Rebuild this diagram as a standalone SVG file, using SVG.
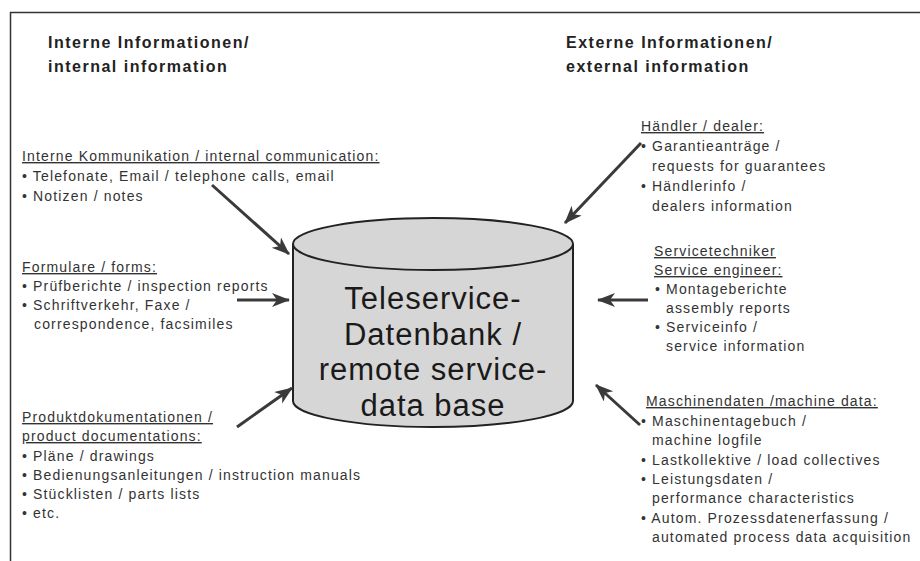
<svg xmlns="http://www.w3.org/2000/svg" width="920" height="561" viewBox="0 0 920 561">
  <defs>
    <marker id="head" markerUnits="userSpaceOnUse" markerWidth="20" markerHeight="16" refX="17" refY="7" orient="auto">
      <path d="M0,0 L18,7 L0,14 L5,7 Z" fill="#3a3a3a"/>
    </marker>
    <style>
      .heading { font-family: "Liberation Sans", Arial, sans-serif; font-size: 16px; font-weight: bold; fill: #222; letter-spacing: 1.5px; }
      .txt { font-family: "Liberation Sans", Arial, sans-serif; font-size: 14px; fill: #333; letter-spacing: 1.15px; }
      .ul { text-decoration: underline; }
      .db { font-family: "Liberation Sans", Arial, sans-serif; font-size: 31px; fill: #1a1a1a; letter-spacing: 1px; text-anchor: middle; }
      .conn { stroke: #3a3a3a; stroke-width: 3; fill: none; marker-end: url(#head); }
      .cyl { fill: #d6d6d6; stroke: #222; stroke-width: 2; }
    </style>
  </defs>

  <rect x="0" y="0" width="920" height="561" fill="#fff"/>
  <!-- outer frame, right and bottom edges run off the page -->
  <rect x="10.5" y="12.5" width="940" height="580" fill="none" stroke="#333" stroke-width="1.5"/>

  <!-- column headings -->
  <g id="heading-internal">
    <text class="heading" x="48" y="48">Interne Informationen/</text>
    <text class="heading" x="48" y="72">internal information</text>
  </g>
  <g id="heading-external">
    <text class="heading" x="566" y="48">Externe Informationen/</text>
    <text class="heading" x="566" y="72">external information</text>
  </g>

  <!-- central database -->
  <g id="database">
    <path class="cyl" d="M293,244 L293,401 A140,26 0 0 0 573,401 L573,244"/>
    <ellipse class="cyl" cx="433" cy="244" rx="140" ry="26"/>
    <text class="db" x="433" y="309">Teleservice-</text>
    <text class="db" x="433" y="345">Datenbank /</text>
    <text class="db" x="433" y="380">remote service-</text>
    <text class="db" x="433" y="416">data base</text>
  </g>

  <!-- internal sources -->
  <g id="internal-communication">
    <text class="txt ul" x="22" y="161">Interne Kommunikation / internal communication:</text>
    <text class="txt" x="22" y="181">• Telefonate, Email / telephone calls, email</text>
    <text class="txt" x="22" y="201">• Notizen / notes</text>
  </g>
  <g id="forms">
    <text class="txt ul" x="22" y="272">Formulare / forms:</text>
    <text class="txt" x="22" y="291">• Prüfberichte / inspection reports</text>
    <text class="txt" x="22" y="310">• Schriftverkehr, Faxe /</text>
    <text class="txt" x="34" y="329">correspondence, facsimiles</text>
  </g>
  <g id="product-docs">
    <text class="txt ul" x="22" y="422">Produktdokumentationen /</text>
    <text class="txt ul" x="22" y="441">product documentations:</text>
    <text class="txt" x="22" y="461">• Pläne / drawings</text>
    <text class="txt" x="22" y="480">• Bedienungsanleitungen / instruction manuals</text>
    <text class="txt" x="22" y="499">• Stücklisten / parts lists</text>
    <text class="txt" x="22" y="518">• etc.</text>
  </g>

  <!-- external sources -->
  <g id="dealer">
    <text class="txt ul" x="641" y="131">Händler / dealer:</text>
    <text class="txt" x="641" y="151">• Garantieanträge /</text>
    <text class="txt" x="652" y="171">requests for guarantees</text>
    <text class="txt" x="641" y="191">• Händlerinfo /</text>
    <text class="txt" x="652" y="211">dealers information</text>
  </g>
  <g id="service-engineer">
    <text class="txt ul" x="654" y="256">Servicetechniker</text>
    <text class="txt ul" x="654" y="275">Service engineer:</text>
    <text class="txt" x="655" y="294">• Montageberichte</text>
    <text class="txt" x="666" y="313">assembly reports</text>
    <text class="txt" x="655" y="332">• Serviceinfo /</text>
    <text class="txt" x="666" y="351">service information</text>
  </g>
  <g id="machine-data">
    <text class="txt ul" x="646" y="406">Maschinendaten /machine data:</text>
    <text class="txt" x="641" y="426">• Maschinentagebuch /</text>
    <text class="txt" x="652" y="445">machine logfile</text>
    <text class="txt" x="641" y="465">• Lastkollektive / load collectives</text>
    <text class="txt" x="641" y="484">• Leistungsdaten /</text>
    <text class="txt" x="652" y="503">performance characteristics</text>
    <text class="txt" x="641" y="523">• Autom. Prozessdatenerfassung /</text>
    <text class="txt" x="652" y="542">automated process data acquisition</text>
  </g>

  <!-- connectors into the database -->
  <g id="connectors">
    <line class="conn" x1="212" y1="185" x2="289" y2="254"/>
    <line class="conn" x1="237" y1="300" x2="289" y2="300"/>
    <line class="conn" x1="237" y1="427" x2="292" y2="388"/>
    <line class="conn" x1="641" y1="143" x2="565" y2="223"/>
    <line class="conn" x1="648" y1="300" x2="598" y2="300"/>
    <line class="conn" x1="640" y1="425" x2="596" y2="385"/>
  </g>
</svg>
